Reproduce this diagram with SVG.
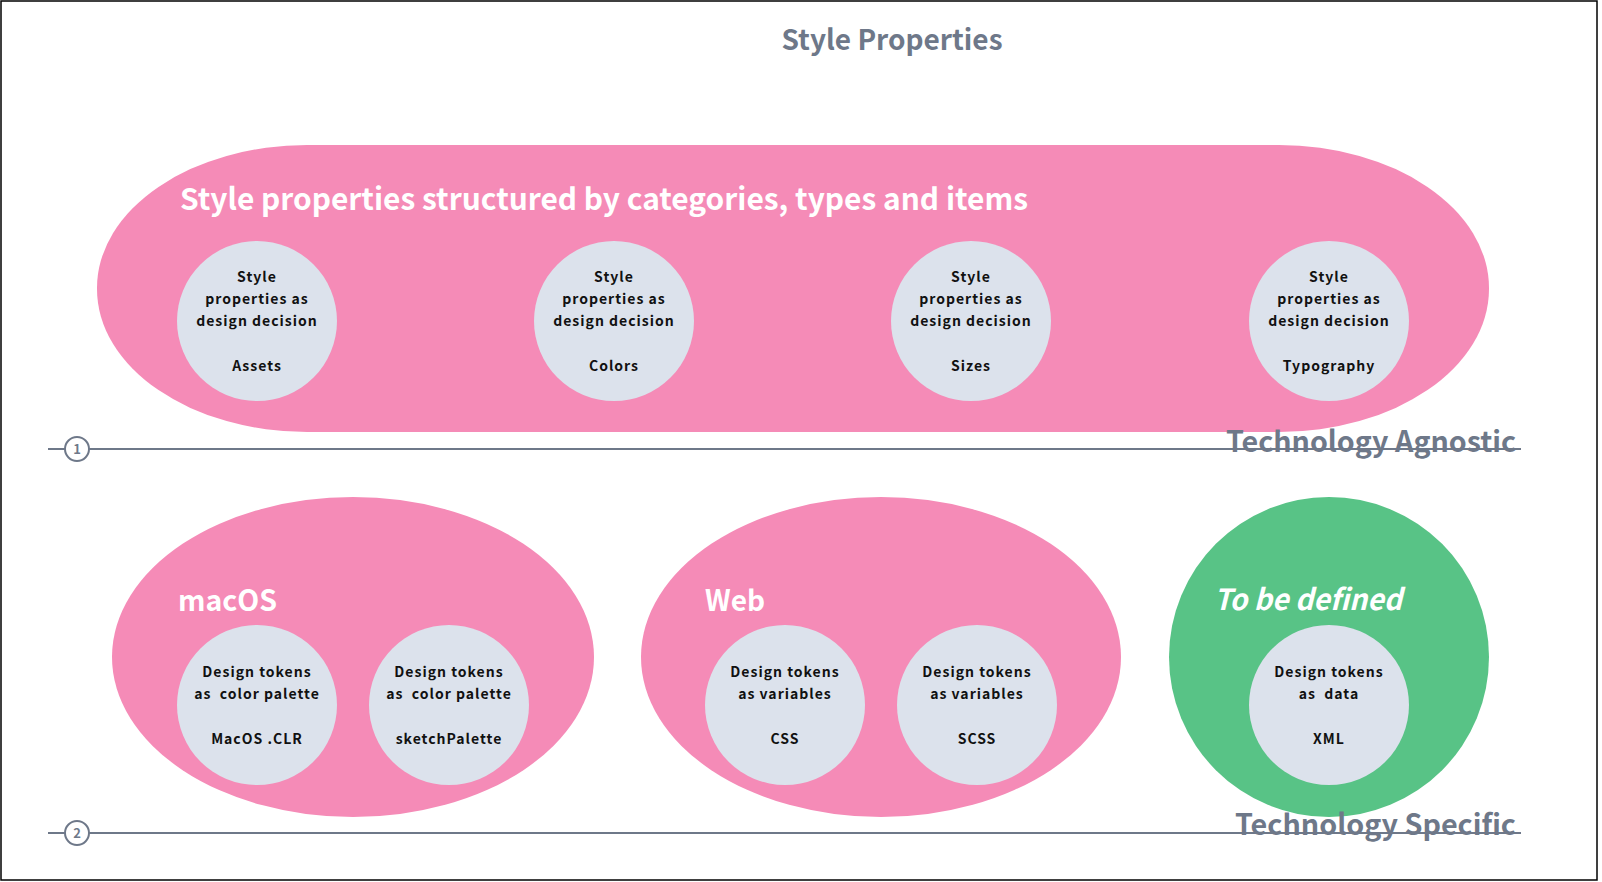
<svg xmlns="http://www.w3.org/2000/svg" width="1602" height="882" viewBox="0 0 1602 882">
<style>
.h{font-family:"Noto Sans CJK JP","Source Sans Pro","Noto Sans",sans-serif;font-weight:700}
.gray{fill:#6E7889}
.white{fill:#ffffff}
.pink{fill:#F58BB7}
.green{fill:#58C386}
.bub{fill:#DCE2EC}
.ct{font-family:"Noto Sans CJK JP","Noto Sans",sans-serif;font-weight:700;font-size:14px;letter-spacing:1px;fill:#111111;text-anchor:middle;white-space:pre}
.axis{stroke:#6E7889;stroke-width:2;fill:none}
.num{font-family:"Noto Sans CJK JP","Noto Sans",sans-serif;font-weight:700;font-size:13px;fill:#6E7889;text-anchor:middle}
</style>
<rect x="1" y="1" width="1596" height="879" fill="#ffffff" stroke="#000000" stroke-width="1.5"/>
<g id="title"><text class="h gray" x="892" y="50" font-size="28" text-anchor="middle" textLength="221" lengthAdjust="spacingAndGlyphs">Style Properties</text></g>

<g id="connectors">
<line class="axis" x1="48" y1="449" x2="1521" y2="449"/>
<circle cx="77" cy="449" r="12" fill="#ffffff" stroke="#6E7889" stroke-width="2"/>
<text class="num" x="77" y="454">1</text>
<line class="axis" x1="48" y1="833" x2="1521" y2="833"/>
<circle cx="77" cy="833" r="12" fill="#ffffff" stroke="#6E7889" stroke-width="2"/>
<text class="num" x="77" y="838">2</text>
</g>

<g id="agnostic">
<rect class="pink" x="97" y="145" width="1392" height="287" rx="210" ry="143"/>
<text class="h white" x="180" y="210" font-size="30" textLength="848" lengthAdjust="spacingAndGlyphs">Style properties structured by categories, types and items</text>
</g>
<g id="assets"><circle class="bub" cx="257" cy="321" r="80"/>
<text class="ct" x="257" y="282">Style</text><text class="ct" x="257" y="304">properties as</text><text class="ct" x="257" y="326">design decision</text><text class="ct" x="257" y="370.5">Assets</text></g>
<g id="colors"><circle class="bub" cx="614" cy="321" r="80"/>
<text class="ct" x="614" y="282">Style</text><text class="ct" x="614" y="304">properties as</text><text class="ct" x="614" y="326">design decision</text><text class="ct" x="614" y="370.5">Colors</text></g>
<g id="sizes"><circle class="bub" cx="971" cy="321" r="80"/>
<text class="ct" x="971" y="282">Style</text><text class="ct" x="971" y="304">properties as</text><text class="ct" x="971" y="326">design decision</text><text class="ct" x="971" y="370.5">Sizes</text></g>
<g id="typography"><circle class="bub" cx="1329" cy="321" r="80"/>
<text class="ct" x="1329" y="282">Style</text><text class="ct" x="1329" y="304">properties as</text><text class="ct" x="1329" y="326">design decision</text><text class="ct" x="1329" y="370.5">Typography</text></g>

<g id="label-agnostic"><text class="h gray" x="1226" y="452" font-size="29" textLength="290" lengthAdjust="spacingAndGlyphs">Technology Agnostic</text></g>

<g id="macos">
<ellipse class="pink" cx="353" cy="657" rx="241" ry="160"/>
<text class="h white" x="178" y="611" font-size="29" textLength="99" lengthAdjust="spacingAndGlyphs">macOS</text>
</g>
<g id="clr"><circle class="bub" cx="257" cy="705" r="80"/>
<text class="ct" x="257" y="677">Design tokens</text><text class="ct" x="257" y="699">as  color palette</text><text class="ct" x="257" y="743.5">MacOS .CLR</text></g>
<g id="sketch"><circle class="bub" cx="449" cy="705" r="80"/>
<text class="ct" x="449" y="677">Design tokens</text><text class="ct" x="449" y="699">as  color palette</text><text class="ct" x="449" y="743.5">sketchPalette</text></g>

<g id="web">
<ellipse class="pink" cx="881" cy="657" rx="240" ry="160"/>
<text class="h white" x="705" y="611" font-size="29" textLength="60" lengthAdjust="spacingAndGlyphs">Web</text>
</g>
<g id="css"><circle class="bub" cx="785" cy="705" r="80"/>
<text class="ct" x="785" y="677">Design tokens</text><text class="ct" x="785" y="699">as variables</text><text class="ct" x="785" y="743.5">CSS</text></g>
<g id="scss"><circle class="bub" cx="977" cy="705" r="80"/>
<text class="ct" x="977" y="677">Design tokens</text><text class="ct" x="977" y="699">as variables</text><text class="ct" x="977" y="743.5">SCSS</text></g>

<g id="tbd">
<circle class="green" cx="1329" cy="657" r="160"/>
<text class="h white" x="1214" y="610" font-size="29" font-style="italic" textLength="188" lengthAdjust="spacingAndGlyphs">To be defined</text>
</g>
<g id="xml"><circle class="bub" cx="1329" cy="705" r="80"/>
<text class="ct" x="1329" y="677">Design tokens</text><text class="ct" x="1329" y="699">as  data</text><text class="ct" x="1329" y="743.5">XML</text></g>

<g id="label-specific"><text class="h gray" x="1235" y="835" font-size="29" textLength="281" lengthAdjust="spacingAndGlyphs">Technology Specific</text></g>
</svg>
